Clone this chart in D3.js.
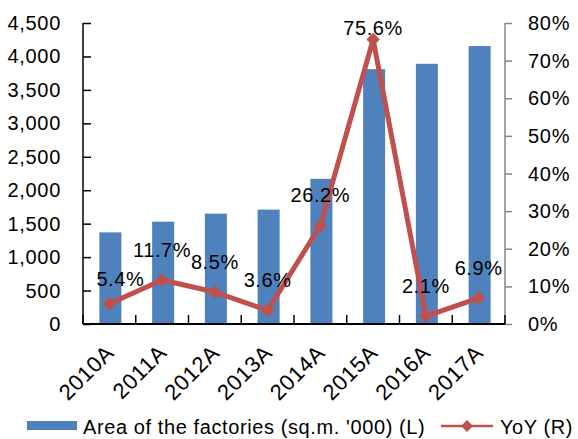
<!DOCTYPE html>
<html>
<head>
<meta charset="utf-8">
<script src="https://cdn.jsdelivr.net/npm/d3@7"></script>
<style>
  html, body { margin: 0; padding: 0; background: #fff; }
  svg { display: block; font-family: "Liberation Sans", Arial, sans-serif; }
</style>
</head>
<body>
<svg id="chart" width="578" height="439"></svg>
<script>
// Factory floor area (bars, left axis) and its year-on-year growth (line, right axis)
const years = ["2010A", "2011A", "2012A", "2013A", "2014A", "2015A", "2016A", "2017A"];
const area = [1370, 1530, 1650, 1710, 2170, 3810, 3890, 4155];
const yoy = [5.4, 11.7, 8.5, 3.6, 26.2, 75.6, 2.1, 6.9];
const leftTicks = [0, 500, 1000, 1500, 2000, 2500, 3000, 3500, 4000, 4500];
const rightTicks = [0, 10, 20, 30, 40, 50, 60, 70, 80];
const legendLabels = ["Area of the factories (sq.m. '000) (L)", "YoY (R)"];

const BLUE = "#4F81BD";
const RED = "#C0504D";

const plot = { left: 83, right: 505, top: 23, bottom: 324 };
const svg = d3.select("#chart");

const x = d3.scaleBand().domain(years).range([plot.left, plot.right]).paddingInner(0).paddingOuter(0);
const yL = d3.scaleLinear().domain([0, 4500]).range([plot.bottom, plot.top]);
const yR = d3.scaleLinear().domain([0, 80]).range([plot.bottom, plot.top]);
const cx = d => x(d) + x.bandwidth() / 2;

// Bars
const barW = 22;
svg.append("g").selectAll("rect").data(years).join("rect")
  .attr("x", (d) => cx(d) - barW / 2 + 1)
  .attr("width", barW)
  .attr("y", (d, i) => yL(area[i]))
  .attr("height", (d, i) => plot.bottom - yL(area[i]))
  .attr("fill", BLUE);

// Left axis (ticks pointing into the plot)
const axL = svg.append("g").attr("transform", `translate(${plot.left},0)`)
  .call(d3.axisRight(yL).tickValues(leftTicks).tickSize(8).tickFormat(""));
axL.select(".domain").attr("stroke", "#000").attr("stroke-width", 1.5).attr("d", `M0,${plot.top}V${plot.bottom}`);
axL.selectAll(".tick line").attr("stroke", "#000").attr("stroke-width", 1.5);
svg.append("g").selectAll("text").data(leftTicks).join("text")
  .attr("x", 61).attr("y", d => yL(d) + 7)
  .attr("text-anchor", "end")
  .attr("font-size", 20).attr("letter-spacing", 0.7)
  .text(d3.format(","));

// Right axis (grey, ticks pointing outward)
const axR = svg.append("g").attr("transform", `translate(${plot.right},0)`)
  .call(d3.axisRight(yR).tickValues(rightTicks).tickSize(7).tickFormat(""));
axR.select(".domain").attr("stroke", "#868686").attr("stroke-width", 1.5).attr("d", `M0,${plot.top}V${plot.bottom}`);
axR.selectAll(".tick line").attr("stroke", "#868686").attr("stroke-width", 1.5);
svg.append("g").selectAll("text").data(rightTicks).join("text")
  .attr("x", 528).attr("y", d => yR(d) + 7)
  .attr("font-size", 20).attr("letter-spacing", 0.7)
  .text(d => d + "%");

// Category axis with ticks at band boundaries pointing up
const bounds = years.map(d => x(d)).concat([plot.right]);
svg.append("g").selectAll("line").data(bounds).join("line")
  .attr("x1", d => d).attr("x2", d => d)
  .attr("y1", plot.bottom).attr("y2", plot.bottom - 9)
  .attr("stroke", "#000").attr("stroke-width", 1.5);
svg.append("line")
  .attr("x1", plot.left).attr("x2", plot.right)
  .attr("y1", plot.bottom).attr("y2", plot.bottom)
  .attr("stroke", "#000").attr("stroke-width", 2);
svg.append("g").selectAll("text").data(years).join("text")
  .attr("transform", d => `translate(${cx(d) + 6},354) rotate(-45)`)
  .attr("text-anchor", "end")
  .attr("font-size", 22).attr("letter-spacing", 0.7)
  .text(d => d);

// YoY line with diamond markers
const line = d3.line().x((d, i) => cx(years[i])).y(d => yR(d));
svg.append("path").datum(yoy)
  .attr("d", line)
  .attr("fill", "none").attr("stroke", RED).attr("stroke-width", 5)
  .attr("stroke-linejoin", "round");
const diamond = d3.symbol().type(d3.symbolDiamond2).size(115);
svg.append("g").selectAll("path").data(yoy).join("path")
  .attr("transform", (d, i) => `translate(${cx(years[i])},${yR(d)})`)
  .attr("d", diamond)
  .attr("fill", RED);

// Value labels above the markers, kept inside the plot area
const labelShift = [[11, 5], [0, 0], [0, 0], [0, 0], [0, 0], [0, 0], [0, 0], [0, 0]];
svg.append("g").selectAll("text").data(yoy).join("text")
  .attr("x", (d, i) => cx(years[i]) + labelShift[i][0])
  .attr("y", (d, i) => Math.max(yR(d) - 23, plot.top + 12) + labelShift[i][1])
  .attr("text-anchor", "middle")
  .attr("font-size", 20).attr("letter-spacing", 0.6)
  .text(d => d.toFixed(1) + "%");

// Legend
const lg = svg.append("g");
lg.append("rect").attr("x", 27).attr("y", 421).attr("width", 50).attr("height", 9).attr("fill", BLUE);
lg.append("text").attr("x", 83).attr("y", 434).attr("font-size", 20).attr("letter-spacing", 0.6).text(legendLabels[0]);
lg.append("line").attr("x1", 441).attr("x2", 493).attr("y1", 426).attr("y2", 426)
  .attr("stroke", RED).attr("stroke-width", 2.5);
lg.append("path").attr("transform", "translate(467,426)").attr("d", d3.symbol().type(d3.symbolDiamond2).size(90)).attr("fill", RED);
lg.append("text").attr("x", 500).attr("y", 434).attr("font-size", 20).attr("letter-spacing", 0.6).text(legendLabels[1]);
</script>
</body>
</html>
